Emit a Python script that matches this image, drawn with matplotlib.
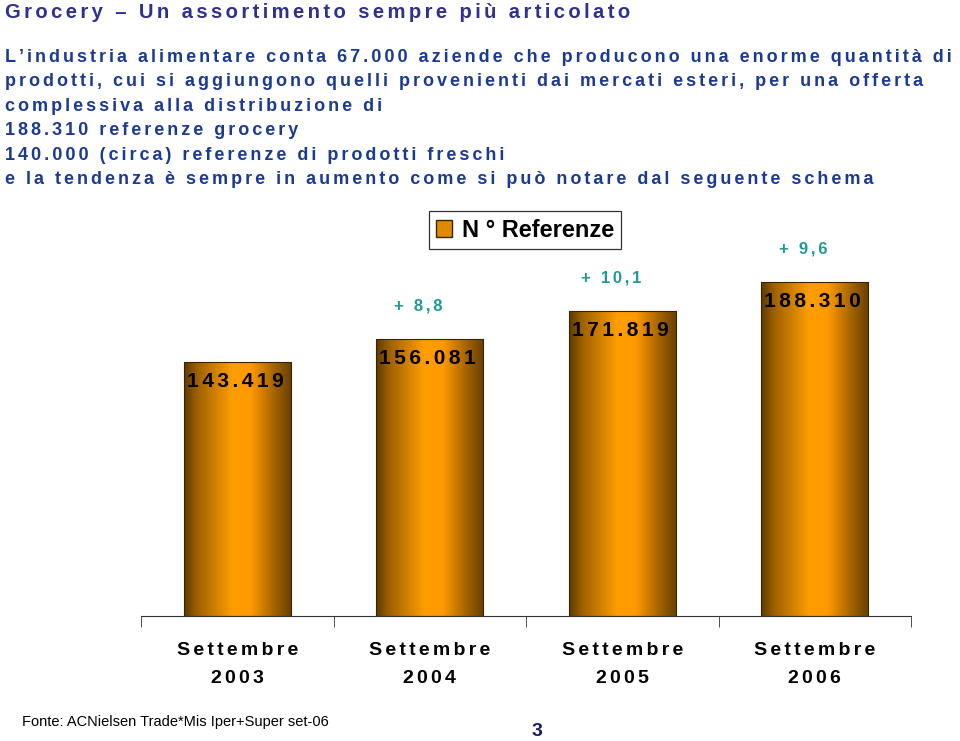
import matplotlib.pyplot as plt
import numpy as np
from matplotlib.patches import Rectangle

plt.rcParams['font.family'] = ['Liberation Sans', 'DejaVu Sans']

# dati
categories = ['Settembre\n2003', 'Settembre\n2004', 'Settembre\n2005', 'Settembre\n2006']
values = [143419, 156081, 171819, 188310]
value_labels = ['143.419', '156.081', '171.819', '188.310']
growth = ['', '+ 8,8', '+ 10,1', '+ 9,6']

title = 'Grocery \u2013 Un assortimento sempre più articolato'
body = ["L\u2019industria alimentare conta 67.000 aziende che producono una enorme quantità di",
        "prodotti, cui si aggiungono quelli provenienti dai mercati esteri, per una offerta",
        "complessiva alla distribuzione di",
        "188.310 referenze grocery",
        "140.000 (circa) referenze di prodotti freschi",
        "e la tendenza è sempre in aumento come si può notare dal seguente schema"]


def spaced(s):
    # spaziatura larga tra le lettere
    return '\u2006'.join(s)


W, H = 960, 741
fig = plt.figure(figsize=(9.6, 7.41), dpi=100)
ax = fig.add_axes([141 / W, 1 - 616 / H, 770 / W, 408 / H])

x = np.arange(len(values))
bw = 0.556
bars = ax.bar(x, values, width=bw, color='none', edgecolor='#3a2400', linewidth=0.8, zorder=3)

# gradiente orizzontale delle barre
pos = [0.0, 0.12, 0.45, 0.62, 0.85, 1.0]
rr = [0.36, 0.62, 1.00, 1.00, 0.62, 0.40]
gg = [0.23, 0.38, 0.62, 0.60, 0.38, 0.25]
bb = [0.00, 0.00, 0.00, 0.00, 0.00, 0.00]
t = np.linspace(0, 1, 200)
grad = np.dstack([np.interp(t, pos, rr), np.interp(t, pos, gg), np.interp(t, pos, bb)])
for b in bars:
    im = ax.imshow(grad, extent=[b.get_x(), b.get_x() + b.get_width(), 0, b.get_height()],
                   aspect='auto', zorder=2)
    im.set_clip_path(b)

ax.set_xlim(-0.5, 3.5)
ax.set_ylim(0, 230000)

for i, v in enumerate(values):
    ax.text(i - 0.01, v - 5800, spaced(value_labels[i]), ha='center', va='top',
            fontsize=15, fontweight='bold', color='black', zorder=4)
    if growth[i]:
        ax.text(i - 0.06, v + 18500, spaced(growth[i]), ha='center', va='center',
                fontsize=12, fontweight='bold', color='#1f9a96')

for s in ['top', 'right', 'left']:
    ax.spines[s].set_visible(False)
ax.spines['bottom'].set_color('#333333')
ax.set_yticks([])
ax.set_xticks(x)
ax.set_xticklabels([spaced(c.split('\n')[0]) + '\n' + spaced(c.split('\n')[1]) for c in categories],
                   fontsize=14, fontweight='bold', linespacing=1.85)
ax.tick_params(axis='x', which='major', length=0, pad=19)
ax.set_xticks(np.arange(-0.5, 4, 1), minor=True)
ax.tick_params(axis='x', which='minor', length=8, color='#333333', direction='out')

# legenda
leg_h = Rectangle((0, 0), 1, 1, facecolor='#e08a00', edgecolor='#3a2400')
leg = fig.legend([leg_h], ['N \u00b0 Referenze'], loc='center',
                 bbox_to_anchor=(525 / W, 1 - 230 / H),
                 prop={'size': 17, 'weight': 'bold'}, frameon=True,
                 fancybox=False, edgecolor='black', handlelength=0.7, handleheight=0.7,
                 handletextpad=0.4, borderpad=0.3)
leg.get_frame().set_linewidth(0.9)

# testi
fig.text(5 / W, 1 - 13 / H, spaced(title), fontsize=14.6, fontweight='bold',
         color='#2e3192', va='center', ha='left')
for k, line in enumerate(body):
    fig.text(5 / W, 1 - (57 + k * 24.6) / H, spaced(line), fontsize=13, fontweight='bold',
             color='#1a3a94', va='center', ha='left')

fig.text(22 / W, 1 - 722 / H, 'Fonte: ACNielsen Trade*Mis Iper+Super set-06', fontsize=10.5,
         color='black', va='center', ha='left')
fig.text(537 / W, 1 - 731 / H, '3', fontsize=14, fontweight='bold', color='#1a1a66',
         va='center', ha='center')

fig.savefig('out.png', dpi=100)
